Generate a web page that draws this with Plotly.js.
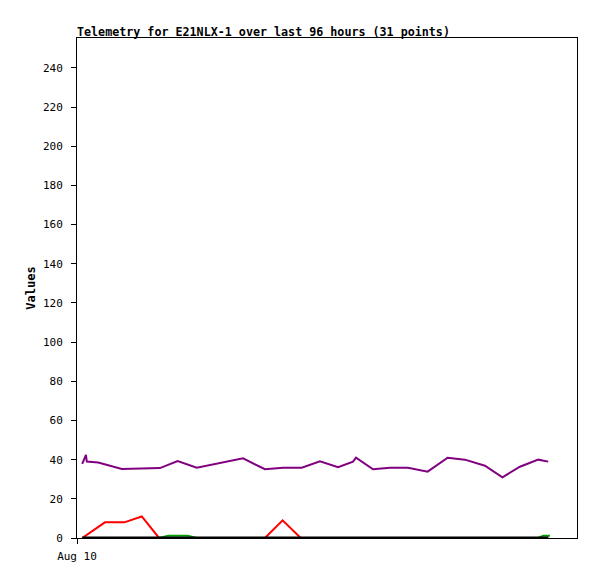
<!DOCTYPE html>
<html>
<head>
<meta charset="utf-8">
<script src="https://cdn.plot.ly/plotly-3.0.1.min.js"></script>
<style>html,body{margin:0;padding:0;background:#fff;}#chart{width:597px;height:579px;}</style>
</head>
<body>
<div id="chart"></div>
<script>
// Time in hours after Aug 10 00:00
const purpleX = [0.25, 0.43, 0.47, 1.02, 2.15, 3.98, 4.83, 5.75, 7.97, 9.02, 9.89, 10.79, 11.66, 12.53, 13.25, 13.39, 14.21, 15.02, 15.89, 16.83, 17.79, 18.62, 19.58, 20.42, 21.26, 22.14, 22.62];
const purpleY = [37.8, 42.4, 39.0, 38.5, 35.2, 35.7, 39.3, 35.9, 40.7, 35.1, 35.9, 35.9, 39.2, 36.1, 39.0, 41.0, 35.1, 35.9, 35.9, 33.9, 41.0, 40.0, 36.9, 31.0, 36.4, 40.0, 39.0];

const redX = [0.25, 1.34, 2.27, 3.11, 3.94, 9.02, 9.87, 10.74, 22.62];
const redY = [0, 8, 8, 11, 0, 0, 9, 0, 0];

const greenX = [0.25, 3.94, 4.38, 5.31, 5.75, 22.14, 22.38, 22.70];
const greenY = [0, 0, 1.2, 1.2, 0, 0, 1.2, 1.2];

const blackX = [0.25, 22.62];
const blackY = [0, 0];

const xTickVals = [0];
const xTickText = ['Aug 10'];
const yTickVals = [0, 20, 40, 60, 80, 100, 120, 140, 160, 180, 200, 220, 240];

const mono = 'DejaVu Sans Mono, Liberation Mono, monospace';

const traces = [
  {x: redX, y: redY, mode: 'lines', line: {color: '#ff0000', width: 2}, hoverinfo: 'skip'},
  {x: greenX, y: greenY, mode: 'lines', line: {color: '#00a000', width: 2}, hoverinfo: 'skip'},
  {x: blackX, y: blackY, mode: 'lines', line: {color: '#000000', width: 3}, hoverinfo: 'skip'},
  {x: purpleX, y: purpleY, mode: 'lines', line: {color: '#800080', width: 2}, hoverinfo: 'skip'}
];

const layout = {
  width: 597, height: 579,
  margin: {l: 77, r: 20, t: 38, b: 41},
  paper_bgcolor: '#fff', plot_bgcolor: '#fff',
  showlegend: false,
  font: {family: mono, size: 11, color: '#000'},
  title: {
    text: '<b>Telemetry for E21NLX-1 over last 96 hours (31 points)</b>',
    font: {family: mono, size: 11.7, color: '#000'},
    xref: 'paper', x: 0, xanchor: 'left',
    yref: 'paper', y: 1, yanchor: 'bottom', pad: {b: 2}
  },
  xaxis: {
    range: [0, 24],
    tickvals: xTickVals, ticktext: xTickText,
    ticks: 'outside', ticklen: 5, tickcolor: '#000', tickwidth: 1,
    ticklabelstandoff: 3,
    showline: true, linecolor: '#000', linewidth: 1, mirror: true,
    showgrid: false, zeroline: false,
    tickfont: {family: mono, size: 11, color: '#000'}
  },
  yaxis: {
    range: [0, 255.3],
    tickvals: yTickVals,
    ticks: 'outside', ticklen: 5, tickcolor: '#000', tickwidth: 1,
    ticklabelstandoff: 6,
    showline: true, linecolor: '#000', linewidth: 1, mirror: true,
    showgrid: false, zeroline: false,
    tickfont: {family: mono, size: 11, color: '#000'},
    title: {text: '<b>Values</b>', font: {family: mono, size: 12, color: '#000'}, standoff: 4}
  }
};

Plotly.newPlot('chart', traces, layout, {staticPlot: true, displayModeBar: false});
</script>
</body>
</html>
